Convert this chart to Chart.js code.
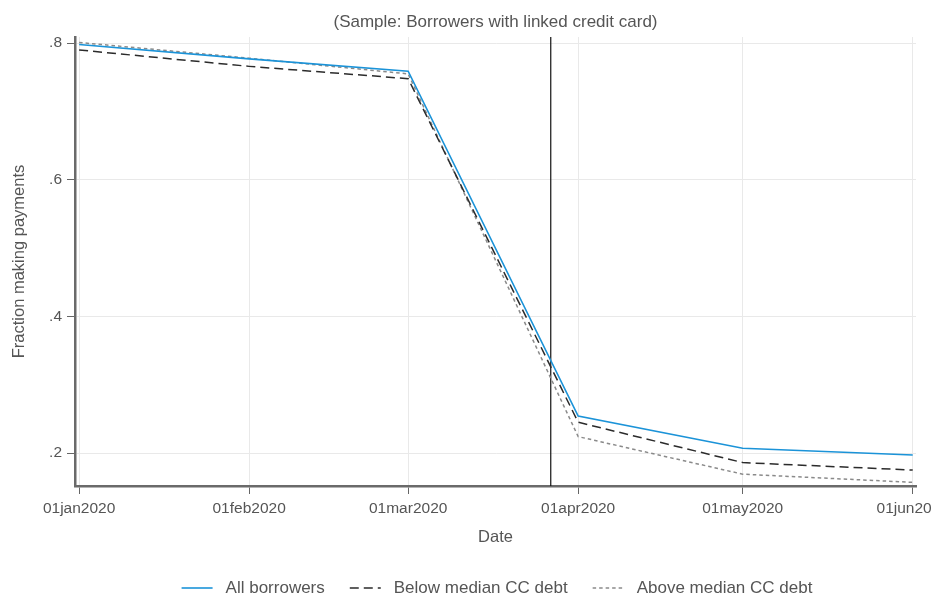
<!DOCTYPE html>
<html>
<head>
<meta charset="utf-8">
<script src="https://cdn.jsdelivr.net/npm/chart.js@4"></script>
<style>
    html, body { margin: 0; padding: 0; background: #fff; }
    #wrap { width: 932px; height: 597px; }
</style>
</head>
<body>
<div id="wrap"><canvas id="chart" width="932" height="597"></canvas></div>
<script>
// months shown on the x axis (day number counted from 01jan2020)
let dateLabels = ['01jan2020', '01feb2020', '01mar2020', '01apr2020', '01may2020', '01jun2020'];
let dayIndex = [0, 31, 60, 91, 121, 152];

// fraction making payments
let allBorrowers = [0.798, 0.777, 0.759, 0.254, 0.207, 0.197];
let belowMedian = [0.790, 0.766, 0.748, 0.245, 0.186, 0.175];
let aboveMedian = [0.801, 0.778, 0.755, 0.224, 0.169, 0.157];

let yTicks = [0.2, 0.4, 0.6, 0.8];
let eventDay = 86; // 27mar2020

let yMin = 0.1517, yMax = 0.809;
let xMin = -0.75, xMax = 152.6;

let fontFamily = '"Liberation Sans", Arial, Helvetica, sans-serif';
let textColor = '#555555';

function toPoints(values) {
    return values.map((v, i) => ({ x: dayIndex[i], y: v }));
}

let series = [
    { label: 'All borrowers', data: allBorrowers, color: '#1b93d8', width: 1.6, dash: [] },
    { label: 'Below median CC debt', data: belowMedian, color: '#2b2b2b', width: 1.5, dash: [9, 5] },
    { label: 'Above median CC debt', data: aboveMedian, color: '#8a8a8a', width: 1.5, dash: [3.5, 3] }
];

// title on top and the legend under the axis title
const decorations = {
    id: 'decorations',
    afterDraw(chart) {
        const ctx = chart.ctx;
        const area = chart.chartArea;
        const cx = (area.left + area.right) / 2;

        ctx.save();
        ctx.fillStyle = textColor;
        ctx.font = '17px ' + fontFamily;
        ctx.textAlign = 'center';
        ctx.textBaseline = 'middle';
        ctx.fillText('(Sample: Borrowers with linked credit card)', cx, 22);

        // legend
        const sample = 31, gapText = 13, gapItem = 25;
        ctx.font = '17px ' + fontFamily;
        let widths = series.map(s => ctx.measureText(s.label).width);
        let total = 0;
        widths.forEach(w => { total += sample + gapText + w; });
        total += gapItem * (series.length - 1);
        let x = 497 - total / 2;
        const y = 588;
        ctx.textAlign = 'left';
        series.forEach((s, i) => {
            ctx.beginPath();
            ctx.strokeStyle = s.color;
            ctx.lineWidth = s.width;
            ctx.setLineDash(s.dash);
            ctx.moveTo(x, y);
            ctx.lineTo(x + sample, y);
            ctx.stroke();
            ctx.setLineDash([]);
            x += sample + gapText;
            ctx.fillStyle = textColor;
            ctx.fillText(s.label, x, y);
            x += widths[i] + gapItem;
        });
        ctx.restore();
    }
};

let datasets = series.map(s => ({
    label: s.label,
    data: toPoints(s.data),
    borderColor: s.color,
    borderWidth: s.width,
    borderDash: s.dash,
    pointRadius: 0,
    fill: false,
    tension: 0
}));

datasets.push({
    label: 'event',
    data: [{ x: eventDay, y: yMin }, { x: eventDay, y: yMax }],
    borderColor: '#111111',
    borderWidth: 1.2,
    pointRadius: 0,
    fill: false
});

let ctx = document.getElementById('chart').getContext('2d');
let chart = new Chart(ctx, {
    type: 'line',
    data: { datasets: datasets },
    plugins: [decorations],
    options: {
        responsive: false,
        animation: false,
        devicePixelRatio: 1,
        layout: { padding: { top: 37, right: 16, bottom: 0, left: 0 } },
        plugins: {
            legend: { display: false },
            tooltip: { enabled: false },
            title: { display: false }
        },
        scales: {
            x: {
                type: 'linear',
                min: xMin,
                max: xMax,
                afterBuildTicks: function(scale) {
                    scale.ticks = dayIndex.map(d => ({ value: d }));
                },
                afterFit: function(scale) {
                    scale.height = 111;
                    scale.paddingLeft = 0;
                    scale.paddingRight = 0;
                },
                ticks: {
                    autoSkip: false,
                    maxRotation: 0,
                    padding: 5,
                    color: textColor,
                    font: { family: fontFamily, size: 15.5 },
                    callback: function(value) {
                        let i = dayIndex.indexOf(value);
                        return i >= 0 ? dateLabels[i] : '';
                    }
                },
                grid: {
                    color: '#e9e9e9',
                    lineWidth: 1,
                    tickColor: '#666666',
                    tickLength: 8,
                    drawTicks: true
                },
                border: { color: '#6a6a6a', width: 2.5 },
                title: {
                    display: true,
                    text: 'Date',
                    color: textColor,
                    font: { family: fontFamily, size: 16.5 },
                    padding: { top: 0, bottom: 50 }
                }
            },
            y: {
                type: 'linear',
                min: yMin,
                max: yMax,
                afterBuildTicks: function(scale) {
                    scale.ticks = yTicks.map(v => ({ value: v }));
                },
                afterFit: function(scale) {
                    scale.width = 75;
                    scale.paddingTop = 0;
                    scale.paddingBottom = 0;
                },
                ticks: {
                    padding: 5,
                    color: textColor,
                    font: { family: fontFamily, size: 15.5 },
                    callback: function(value) {
                        return '.' + Math.round(value * 10);
                    }
                },
                grid: {
                    color: '#e9e9e9',
                    lineWidth: 1,
                    tickColor: '#666666',
                    tickLength: 8,
                    drawTicks: true
                },
                border: { color: '#6a6a6a', width: 2.5 },
                title: {
                    display: true,
                    text: 'Fraction making payments',
                    color: textColor,
                    font: { family: fontFamily, size: 16.5 },
                    padding: { top: 10, bottom: 0 }
                }
            }
        }
    }
});
</script>
</body>
</html>
